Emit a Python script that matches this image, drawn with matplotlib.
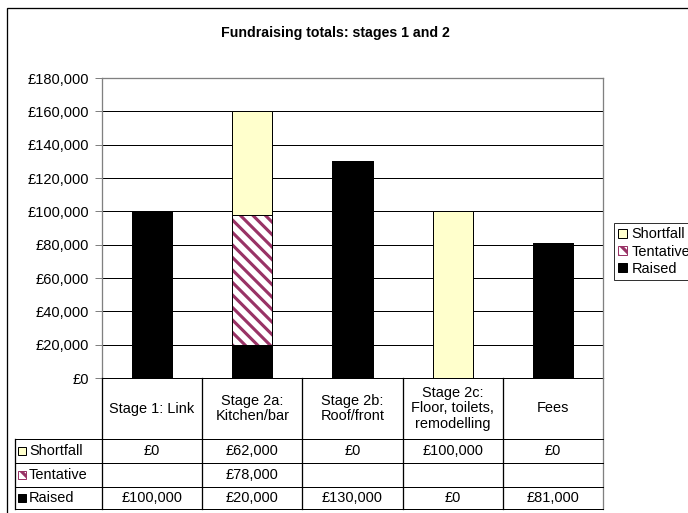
import numpy as np
import matplotlib
matplotlib.use("Agg")
import matplotlib.pyplot as plt
from matplotlib import transforms
from matplotlib.lines import Line2D
from matplotlib.patches import Rectangle, Patch

categories = ["Stage 1: Link", "Stage 2a:\nKitchen/bar", "Stage 2b:\nRoof/front",
              "Stage 2c:\nFloor, toilets,\nremodelling", "Fees"]
raised = [100000, 20000, 130000, 0, 81000]
tentative = [None, 78000, None, None, None]
shortfall = [0, 62000, 0, 100000, 0]
series_names = ["Shortfall", "Tentative", "Raised"]
title = "Fundraising totals: stages 1 and 2"

YELLOW = "#FFFFCC"
PURPLE = "#993366"
HATCH = "\\\\"

DPI = 75
W, H = 688, 513
plt.rcParams["font.family"] = ["Liberation Sans", "DejaVu Sans"]
plt.rcParams["hatch.linewidth"] = 3.0
FS = 10.2 * 100 / DPI  # keep pixel size of ~14px


def px(x, y):
    """pixel coords -> figure fraction"""
    return x / W, 1 - y / H


fig = plt.figure(figsize=(W / DPI, H / DPI), dpi=DPI)
lw1 = 72 / DPI  # one pixel

# chart frame
fig.add_artist(Rectangle(px(7, 520), (W + 20) / W, (520 - 8) / H,
                         transform=fig.transFigure, fill=False,
                         edgecolor="black", lw=lw1 * 1.3))

x0, x1, ytop, ybot = 102, 603, 78, 378
ax = fig.add_axes([x0 / W, 1 - ybot / H, (x1 - x0) / W, (ybot - ytop) / H])

x = np.arange(len(categories))
tent = np.array([0 if v is None else v for v in tentative], dtype=float)
raised_a = np.array(raised, dtype=float)
short_a = np.array(shortfall, dtype=float)

bw = 0.4
ax.bar(x, raised_a, bw, color="black", edgecolor="black", lw=lw1, zorder=3)
ax.bar(x, tent, bw, bottom=raised_a, facecolor="white", edgecolor=PURPLE,
       hatch=HATCH, lw=0, zorder=3)
ax.bar(x, tent, bw, bottom=raised_a, facecolor="none", edgecolor="black",
       lw=lw1, zorder=4)
ax.bar(x, short_a, bw, bottom=raised_a + tent, color=YELLOW,
       edgecolor="black", lw=lw1, zorder=3)

ax.set_xlim(-0.5, len(categories) - 0.5)
ax.set_ylim(0, 180000)
ax.set_yticks(np.arange(0, 180001, 20000))
ax.set_yticklabels([f"£{v:,.0f}" for v in np.arange(0, 180001, 20000)],
                   fontsize=FS * 1.03)
ax.yaxis.grid(True, color="black", lw=lw1)
ax.set_axisbelow(True)
ax.set_xticks([])
ax.tick_params(axis="y", length=7 * lw1, width=lw1, color="#808080", pad=6 * lw1)
for s in ["left", "right", "top"]:
    ax.spines[s].set_color("#808080")
    ax.spines[s].set_linewidth(lw1 * 1.3)
ax.spines["bottom"].set_color("black")
ax.spines["bottom"].set_linewidth(lw1)

fig.text(*px(335, 33), title, ha="center", va="center", fontsize=FS,
         fontweight="bold")

# data table below the plot
bt = transforms.blended_transform_factory(ax.transData, fig.transFigure)
row_y = [439, 463, 487, 509]
edges = np.arange(len(categories) + 1) - 0.5
for i, e in enumerate(edges):
    col = "#808080" if i == len(edges) - 1 else "black"
    fig.add_artist(Line2D([e, e], [px(0, ybot)[1], px(0, row_y[-1])[1]],
                          transform=bt, color=col, lw=lw1 * 1.3))
for yy in row_y:
    fig.add_artist(Line2D([15 / W, x1 / W], [px(0, yy)[1]] * 2,
                          transform=fig.transFigure, color="black", lw=lw1))
fig.add_artist(Line2D([15 / W] * 2, [px(0, row_y[0])[1], px(0, row_y[-1])[1]],
                      transform=fig.transFigure, color="black", lw=lw1 * 1.3))

for i, c in enumerate(categories):
    fig.text(x[i], px(0, (ybot + row_y[0]) / 2)[1], c, transform=bt,
             ha="center", va="center", fontsize=FS * 1.02, linespacing=1.15)

rows = [shortfall, tentative, raised]
styles = [dict(facecolor=YELLOW, edgecolor="black"),
          dict(facecolor="white", edgecolor=PURPLE, hatch=HATCH),
          dict(facecolor="black", edgecolor="black")]
for r, (name, vals, st) in enumerate(zip(series_names, rows, styles)):
    yc = px(0, (row_y[r] + row_y[r + 1]) / 2)[1]
    fig.add_artist(Rectangle(px(18, (row_y[r] + row_y[r + 1]) / 2 + 4), 8 / W, 8 / H,
                             transform=fig.transFigure, lw=lw1, **st))
    fig.text(29 / W, yc, name, ha="left", va="center", fontsize=FS * 1.02)
    for i, v in enumerate(vals):
        if v is None:
            continue
        fig.text(x[i], yc, f"£{v:,.0f}", transform=bt, ha="center",
                 va="center", fontsize=FS * 1.02)

handles = [Patch(facecolor=YELLOW, edgecolor="black", lw=lw1),
           Patch(facecolor="white", edgecolor=PURPLE, hatch=HATCH, lw=lw1),
           Patch(facecolor="black", edgecolor="black", lw=lw1)]
leg = fig.legend(handles, series_names, loc="upper left",
                 bbox_to_anchor=px(614, 223), bbox_transform=fig.transFigure,
                 fontsize=FS * 1.02, frameon=True, fancybox=False, borderaxespad=0,
                 borderpad=0.3, handlelength=0.6, handleheight=0.6,
                 handletextpad=0.3, labelspacing=0.22)
leg.get_frame().set_edgecolor("black")
leg.get_frame().set_linewidth(lw1)

fig.savefig("out.png", dpi=DPI, facecolor="white")
